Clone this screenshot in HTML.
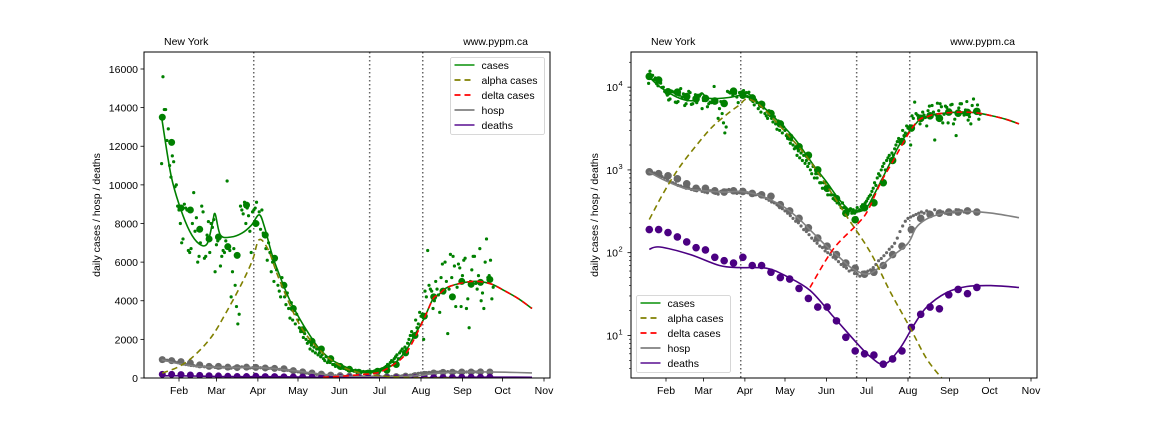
<!DOCTYPE html>
<html><head><meta charset="utf-8">
<style>
html,body{margin:0;padding:0;background:#fff;}
svg{display:block;font-family:"Liberation Sans","DejaVu Sans",sans-serif;}
</style></head>
<body>
<svg id="chart" width="1152" height="432" viewBox="0 0 1152 432"></svg>
<script>
// ---- data (x = day of year 2021) ----
const monthLabels = ["Feb","Mar","Apr","May","Jun","Jul","Aug","Sep","Oct","Nov"];
const monthDays = [31,59,90,120,151,181,212,243,273,304];
const linTicks = [0,2000,4000,6000,8000,10000,12000,14000,16000];
const logTicks = [10,100,1000,10000];
const logTickLabels = ["1","2","3","4"];
const eventDays = [86.9,173.6,213.3];

const casesModelDays = [18,25,32,39,46,52,56,58,62,70,78,85,91,95,101,108,114,121,128,135,143,151,160,168,174,181,186,193,201,207,214,221,225,232,245,255,265,275,285,295];
const casesModel = [13500,10500,8800,7600,6950,6950,8000,8500,7400,7300,7500,7900,8450,7800,6300,5000,4000,3100,2300,1600,1050,720,450,330,310,350,480,800,1450,2200,3050,4100,4300,4700,4950,5000,4850,4500,4100,3600];
const alphaDays = [18.5,30,41.5,55,66,78,86,91,98,106,121,136,151.5,166,184,199,214,226,237.6];
const alphaModel = [252,560,1100,2100,3360,4900,6100,7160,6600,5100,2790,1460,635,277,100,33,12,5.2,3];
const deltaDays = [138.7,156,174,181.7,191.6,201.4,213.8,221,225,232,245,255,265,275,285,295];
const deltaModel = [38,110,220,318,700,1330,3000,4100,4300,4700,4950,5000,4850,4500,4100,3600];
const hospDays = [18,30,45,60,75,87,100,110,120,130,140,151,160,170,181,190,200,212,218,225,235,245,260,275,295];
const hospModel = [950,750,600,560,540,550,500,430,350,260,180,120,90,65,55,65,90,130,200,250,290,310,315,300,265];
const deathDays = [18.5,26.5,49,71,86,106,121,138.7,156,174,184,194.5,206,216,226,241,256,274,295];
const deathModel = [110,117,95,70,66,65,52,35,17,8,5.5,4.5,7,13,22,33,39,40,38];

// weekly averages, first at day 18.5, step 7
const weeklyStart = 18.5;
const casesWeekly = [13500,12200,8800,8700,7700,7200,7300,6800,6350,8950,8000,7400,6200,4800,3600,2500,1900,1500,1000,600,450,300,250,350,400,700,1300,2200,3200,4200,4500,4200,5000,4850,4950,5100];
const hospWeekly = [950,900,850,780,680,600,600,560,540,560,550,520,500,480,380,320,260,200,150,120,95,75,65,55,58,70,95,120,190,260,290,300,310,310,320,310];
const deathsWeekly = [190,190,175,155,135,115,108,88,80,75,88,70,70,58,50,48,37,28,22,22,15,9.5,6.5,6,5.8,4.5,5.2,6.5,12.5,18,22,21,31,36,32,38];

// daily cases (hundreds), from day 18
const casesDailyHundreds = [111,156,139,139,123,129,110, 104,115,112,99,100,89,87, 80,70,72,90,88,87,66, 65,67,80,96,76,83,60, 63,70,89,86,62,63,74, 81,65,80,78,82,55,69, 71,72,58,63,66,65,71, 102,68,66,42,55,67,48, 37,28,33,89,87,85,91, 80,88,84,76,65,86,87, 88,91,80,86,77,87,75, 74,67,61,70,65,55,60, 50,62,56,48,45,42,52, 48,42,38,44,36,31,39, 30,35,28,33,30,26,24, 25,21,23,20,18,19,15, 17,14,16,13,15,12,13, 11,12,10,9,11,8,9, 8,9,7,7,6,7,7, 6,5,6,5,5,4.5,5, 4.5,4,4,3.8,3.5,4,3.5, 3.5,3.3,3,3.2,3.4,3,3.3, 3,3.2,3.5,3.2,3.3,3.6,3.8, 3.8,4,4.2,4.5,4.8,5,5.5, 6,7,6.5,8,9,8.5,10, 11,12,10,13,14,15,13, 16,15,18,20,22,24,22, 22,30,26,28,34,32,33, 20,45,42,66,48,46,45, 36,40,50,46,43,34,52, 59,44,60,50,23,46,64, 52,63,58,37,47,59,57, 37,53,61,62,36,41,26, 50,56,63,63,49,46,53, 67,40,44,36,60,72,52, 53,61,41,47];
// daily hosp, from day 18 step 2
const hospDaily = [960,900,920,880,850,830,800,760,720,700,680,650,640,620,600,610,580,570,560,580,550,540,530,560,540,520,510,550,540,570,580,550,540,520,530, 560,540,530,520,510,500,505,490,470,450,430,410,400,380,350,340,320,300,280,260,240,230,210,190,180,165,150,140,130,120,115,105,100,95,88,84,78,72,68,65,60,62,56,55,52,58,55,60,62,66,72,80,85,92,100,110,118,130,150,180,210,240,260,270,280,290,300,310,300,320,310,290,330,300,320,310,300,320,290,310,330,300,320,310,305];

// ---- helpers ----
const svg = document.getElementById('chart');
const NS = 'http://www.w3.org/2000/svg';
function mk(tag, attrs, parent){
  const e = document.createElementNS(NS, tag);
  for (const k in attrs) e.setAttribute(k, attrs[k]);
  (parent||svg).appendChild(e);
  return e;
}
function smoothPath(pts){
  if (pts.length<2) return '';
  let d = 'M'+pts[0][0].toFixed(1)+','+pts[0][1].toFixed(1);
  for (let i=0;i<pts.length-1;i++){
    const p0=pts[Math.max(0,i-1)], p1=pts[i], p2=pts[i+1], p3=pts[Math.min(pts.length-1,i+2)];
    const c1=[p1[0]+(p2[0]-p0[0])/6, p1[1]+(p2[1]-p0[1])/6];
    const c2=[p2[0]-(p3[0]-p1[0])/6, p2[1]-(p3[1]-p1[1])/6];
    d+=' C'+c1[0].toFixed(1)+','+c1[1].toFixed(1)+' '+c2[0].toFixed(1)+','+c2[1].toFixed(1)+' '+p2[0].toFixed(1)+','+p2[1].toFixed(1);
  }
  return d;
}

function drawPanel(cfg){
  const L=cfg.left, R=cfg.right, T=52, B=378;
  const xs = d => cfg.xFeb + (d-31)*1.337;
  let ys;
  if (cfg.log){
    const lmin=Math.log10(3.06), lmax=Math.log10(26600);
    ys = v => B - (Math.log10(Math.max(v,1e-3))-lmin)/(lmax-lmin)*(B-T);
  } else {
    ys = v => B - v/16880*(B-T);
  }
  const g = mk('g', {});
  const clipId = cfg.name+'-clip';
  const cp = mk('clipPath',{id:clipId}, g);
  mk('rect',{x:L,y:T,width:R-L,height:B-T},cp);
  const plot = mk('g',{'clip-path':'url(#'+clipId+')',}, g);

  eventDays.forEach(d=>{
    const l = mk('line',{x1:xs(d),x2:xs(d),y1:T,y2:B,stroke:'#666','stroke-width':1.5,'stroke-dasharray':'1.5,2.5'},plot);
    
    
  });

  casesDailyHundreds.forEach((v,i)=>{
    const c = mk('circle',{cx:xs(18+i),cy:ys(v*100),r:1.6,fill:'#008000'},plot);
    
    
  });
  hospDaily.forEach((v,i)=>{
    const c = mk('circle',{cx:xs(18+2*i),cy:ys(v),r:1.6,fill:'#696969'},plot);
    
    
  });
  const wk = [[casesWeekly,'#008000','cases-weekly-point'],[hospWeekly,'#696969','hosp-weekly-point'],[deathsWeekly,'#4b0082','deaths-weekly-point']];
  wk.forEach(([arr,col,nm])=>{
    arr.forEach((v,i)=>{
      const c = mk('circle',{cx:xs(weeklyStart+7*i),cy:ys(v),r:cfg.log?3.8:3.5,fill:col},plot);
      
      
    });
  });

  const lines = [
    [hospDays,hospModel,'#808080',null,'hosp-line'],
    [deathDays,deathModel,'#4b0082',null,'deaths-line'],
    [casesModelDays,casesModel,'#008000',null,'cases-line'],
    [alphaDays,alphaModel,'#808000','6,4','alpha-cases-line'],
    [deltaDays,deltaModel,'#ff0000','6,4','delta-cases-line']
  ];
  lines.forEach(([dd,vv,col,dash,nm])=>{
    const pts = dd.map((d,i)=>[xs(d),ys(vv[i])]);
    const a = {d:smoothPath(pts),fill:'none',stroke:col,'stroke-width':1.6};
    if (dash) a['stroke-dasharray']=dash;
    const p = mk('path',a,plot);
    
    
  });

  mk('rect',{x:L,y:T,width:R-L,height:B-T,fill:'none',stroke:'#000','stroke-width':1,},g);

  const xg = mk('g',{},g);
  monthDays.forEach((d,i)=>{
    const x=xs(d);
    mk('line',{x1:x,x2:x,y1:B,y2:B+3.5,stroke:'#000','stroke-width':0.8},xg);
    const t = mk('text',{x:x,y:B+16,'font-size':10.5,'text-anchor':'middle',fill:'#000'},xg);
    t.textContent = monthLabels[i];
    
    
  });

  const yg = mk('g',{},g);
  if (!cfg.log){
    linTicks.forEach(v=>{
      const y=ys(v);
      mk('line',{x1:L-3.5,x2:L,y1:y,y2:y,stroke:'#000','stroke-width':0.8},yg);
      const t = mk('text',{x:L-6,y:y+4,'font-size':10.5,'text-anchor':'end',fill:'#000'},yg);
      t.textContent = String(v);
      
      
    });
  } else {
    for (let e=0;e<=4;e++){
      for (let m=2;m<=9;m++){
        const v=m*Math.pow(10,e), y=ys(v);
        if (y<T||y>B) continue;
        mk('line',{x1:L-2,x2:L,y1:y,y2:y,stroke:'#000','stroke-width':0.6},yg);
      }
    }
    logTicks.forEach((v,i)=>{
      const y=ys(v);
      mk('line',{x1:L-3.5,x2:L,y1:y,y2:y,stroke:'#000','stroke-width':0.8},yg);
      const t = mk('text',{x:L-13,y:y+4,'font-size':10.5,'text-anchor':'end',fill:'#000'},yg);
      t.textContent='10';
      
      
      const s = mk('text',{x:L-12.5,y:y-1,'font-size':7.5,'text-anchor':'start',fill:'#000'},yg);
      s.textContent=logTickLabels[i];
      
      
    });
  }
  const yl = mk('text',{x:0,y:0,'font-size':10.5,'text-anchor':'middle',fill:'#000',transform:'translate('+cfg.ylabX+',215) rotate(-90)',},g);
  yl.textContent='daily cases / hosp / deaths';

  const t1 = mk('text',{x:L+20,y:45,'font-size':10.5,fill:'#000',},g);
  t1.textContent='New York';
  const t2 = mk('text',{x:R-22,y:45,'font-size':10.5,'text-anchor':'end',fill:'#000',},g);
  t2.textContent='www.pypm.ca';

  const lg = mk('g',{},g);
  const lx=cfg.legX, ly=cfg.legY;
  mk('rect',{x:lx,y:ly,width:94,height:77,rx:2,fill:'#fff','fill-opacity':0.85,stroke:'#ccc','stroke-width':0.8},lg);
  const items=[['cases','#2ca02c',null],['alpha cases','#808000','6,4'],['delta cases','#ff0000','6,4'],['hosp','#808080',null],['deaths','#7030a0',null]];
  items.forEach(([lab,col,dash],i)=>{
    const y=ly+7.5+i*15;
    const eg = mk('g',{},lg);
    
    
    const a={x1:lx+4,x2:lx+24,y1:y,y2:y,stroke:col,'stroke-width':1.8};
    if (dash) a['stroke-dasharray']=dash;
    mk('line',a,eg);
    const t = mk('text',{x:lx+31,y:y+4,'font-size':10.5,fill:'#000'},eg);
    t.textContent=lab;
  });
}

drawPanel({name:'linear-panel',left:144,right:550,xFeb:179,log:false,ylabX:100,legX:450.5,legY:57.5});
drawPanel({name:'log-panel',left:631,right:1037,xFeb:666,log:true,ylabX:598,legX:636.5,legY:295.5});
</script>
</body></html>
